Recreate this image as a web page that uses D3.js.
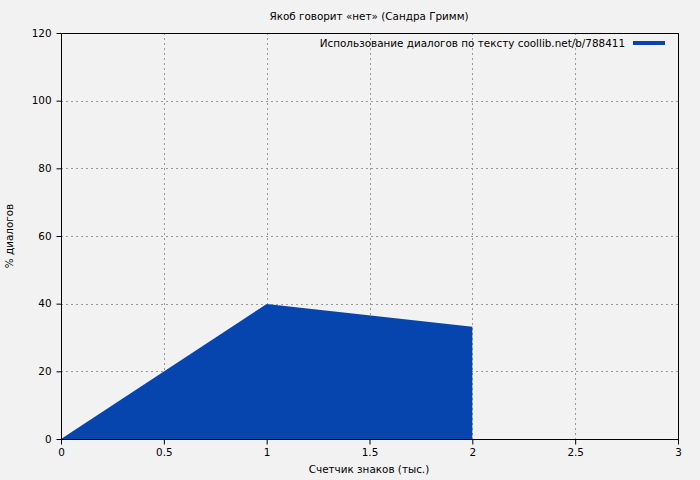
<!DOCTYPE html>
<html>
<head>
<meta charset="utf-8">
<script src="https://cdn.jsdelivr.net/npm/d3@7"></script>
<style>
  body { margin: 0; background: #f2f2f2; }
  svg text { font-family: "DejaVu Sans", Verdana, sans-serif; font-size: 10.4px; fill: #000; }
</style>
</head>
<body>
<svg id="chart" width="700" height="480"></svg>
<script>
// dannye s grafika
var xVals = [0, 1, 2];
var yVals = [0, 39.9, 33.2];
var xTicks = [0, 0.5, 1, 1.5, 2, 2.5, 3];
var yTicks = [0, 20, 40, 60, 80, 100, 120];
var title = "Якоб говорит «нет» (Сандра Гримм)";
var legendText = "Использование диалогов по тексту coollib.net/b/788411";
var xLabel = "Счетчик знаков (тыс.)";
var yLabel = "% диалогов";

var svg = d3.select("#chart");
var pLeft = 61, pRight = 678, pTop = 33, pBottom = 439;
var blue = "#0645ad";
var fontSize = "10.4px";

svg.append("rect").attr("width", 700).attr("height", 480).attr("fill", "#f2f2f2");

var x = d3.scaleLinear().domain([0, 3]).range([pLeft, pRight]);
var y = d3.scaleLinear().domain([0, 120]).range([pBottom, pTop]);

// grid
var grid = svg.append("g");
xTicks.slice(1, -1).forEach(function(t) {
  grid.append("line")
    .attr("x1", Math.round(x(t)) + 0.5).attr("x2", Math.round(x(t)) + 0.5)
    .attr("y1", pTop).attr("y2", pBottom)
    .attr("stroke", "#999").attr("stroke-dasharray", "2,3").attr("stroke-width", 1);
});
yTicks.slice(1, -1).forEach(function(t) {
  grid.append("line")
    .attr("y1", Math.round(y(t)) + 0.5).attr("y2", Math.round(y(t)) + 0.5)
    .attr("x1", pLeft).attr("x2", pRight)
    .attr("stroke", "#999").attr("stroke-dasharray", "2,3").attr("stroke-width", 1);
});

// area
var pts = xVals.map(function(v, i) { return [v, yVals[i]]; });
var area = d3.area()
  .x(function(d) { return x(d[0]); })
  .y0(y(0))
  .y1(function(d) { return y(d[1]); });
svg.append("path").datum(pts).attr("d", area).attr("fill", blue);

// okvir
svg.append("rect")
  .attr("x", pLeft + 0.5).attr("y", pTop + 0.5)
  .attr("width", pRight - pLeft).attr("height", pBottom - pTop)
  .attr("fill", "none").attr("stroke", "#000").attr("stroke-width", 1);

// osi
var xAxis = d3.axisBottom(x).tickValues(xTicks).tickSize(5).tickPadding(4)
  .tickFormat(function(d) { return String(d); });
svg.append("g").attr("transform", "translate(0," + (pBottom + 0.5) + ")").call(xAxis)
  .call(function(g) { g.select(".domain").remove(); });

var yAxis = d3.axisLeft(y).tickValues(yTicks).tickSize(5).tickPadding(5);
svg.append("g").attr("transform", "translate(" + (pLeft + 0.5) + ",0)").call(yAxis)
  .call(function(g) { g.select(".domain").remove(); });

svg.selectAll(".tick text").style("font-family", "DejaVu Sans, Verdana, sans-serif").style("font-size", fontSize).attr("fill", "#000");
svg.selectAll(".tick line").attr("stroke", "#000");

// tekst
svg.append("text").attr("x", 369).attr("y", 20).attr("text-anchor", "middle").text(title);
svg.append("text").attr("x", 369).attr("y", 473).attr("text-anchor", "middle").text(xLabel);
svg.append("text").attr("transform", "translate(13,236) rotate(-90)").attr("text-anchor", "middle").text(yLabel);

// legenda
svg.append("text").attr("x", 625).attr("y", 47).attr("text-anchor", "end").text(legendText);
svg.append("rect").attr("x", 633).attr("y", 41).attr("width", 32).attr("height", 4).attr("fill", blue);
</script>
</body>
</html>
